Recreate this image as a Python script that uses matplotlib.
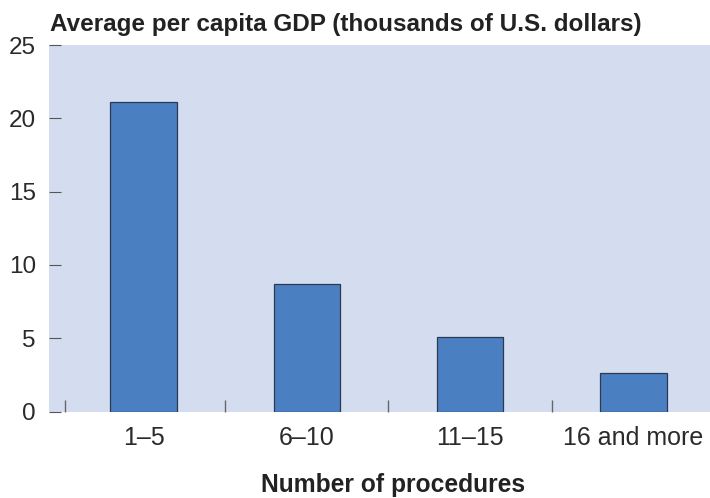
import matplotlib
matplotlib.use("Agg")
import matplotlib.pyplot as plt

plt.rcParams['font.family'] = ['Liberation Sans', 'DejaVu Sans']

categories = ["1\u20135", "6\u201310", "11\u201315", "16 and more"]
gdp = [21.1, 8.7, 5.1, 2.6]
yticks = [0, 5, 10, 15, 20, 25]

fig = plt.figure(figsize=(7.1, 4.98), dpi=100)
ax = fig.add_axes([49 / 710, 86.5 / 498, 661 / 710, 366.5 / 498])
ax.set_facecolor("#d4ddef")

x = list(range(len(categories)))
ax.bar(x, gdp, width=0.407, color="#4a80c2", edgecolor="#2b3a52", linewidth=0.9, zorder=2)

ax.set_xlim(-0.579, 3.469)
ax.set_ylim(0, 25)
ax.set_yticks(yticks)
ax.set_xticks(x)
ax.set_xticklabels(categories)
ax.set_xticks([-0.48, 0.5, 1.5, 2.5], minor=True)

for s in ax.spines.values():
    s.set_visible(False)

ax.tick_params(axis="y", direction="in", length=8.6, width=0.8, color="#555555",
               pad=9.4, labelsize=17.5, labelcolor="#2a2a2a")
ax.tick_params(axis="x", which="major", length=0, pad=10.5, labelsize=18, labelcolor="#2a2a2a")
ax.tick_params(axis="x", which="minor", direction="in", length=8.6, width=1.0, color="#666666")

fig.text(50 / 710, 1 - 24 / 498, "Average per capita GDP (thousands of U.S. dollars)",
         fontsize=17.5, fontweight="bold", color="#222222", ha="left", va="center")
fig.text(393 / 710, 1 - 485 / 498, "Number of procedures",
         fontsize=17.7, fontweight="bold", color="#222222", ha="center", va="center")

fig.savefig("out.png", dpi=100)
